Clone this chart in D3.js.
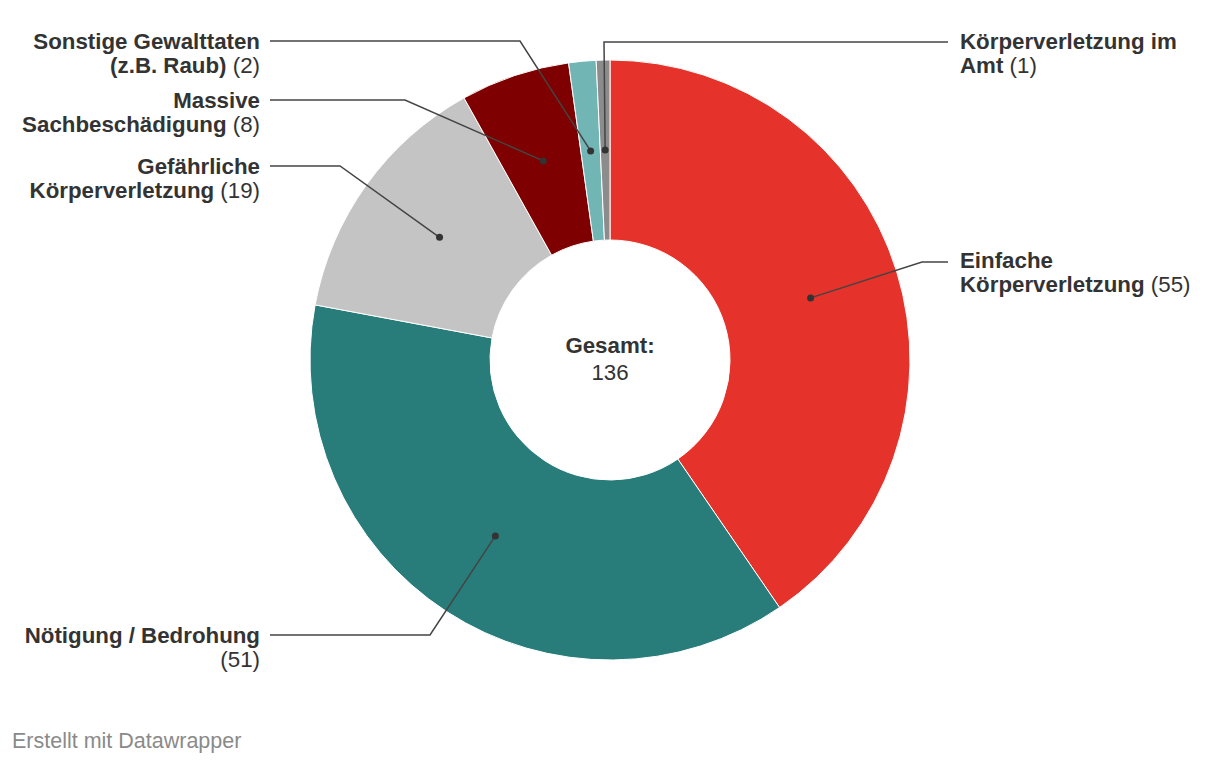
<!DOCTYPE html>
<html><head><meta charset="utf-8">
<script src="https://cdn.jsdelivr.net/npm/d3@7"></script>
<style>
body{margin:0;background:#fff;font-family:"Liberation Sans",Arial,sans-serif;}
svg{display:block}
</style></head><body>
<svg id="chart" width="1220" height="762"></svg>
<script>
// Data
const categories = ["Einfache Körperverletzung","Nötigung / Bedrohung","Gefährliche Körperverletzung","Massive Sachbeschädigung","Sonstige Gewalttaten (z.B. Raub)","Körperverletzung im Amt"];
const values = [55, 51, 19, 8, 2, 1];
const colors = ["#e5332b","#287d7b","#c4c4c4","#7e0000","#72b5b5","#8c8c8c"];
// label lines (text split) - layout only
const labelLines = [
  ["Einfache","Körperverletzung"],
  ["Nötigung / Bedrohung"],
  ["Gefährliche","Körperverletzung"],
  ["Massive","Sachbeschädigung"],
  ["Sonstige Gewalttaten","(z.B. Raub)"],
  ["Körperverletzung im","Amt"]
];
const valueOnOwnLine = [false,true,false,false,false,false];
// layout: side, label y of first line, elbow point
const layout = [
  {side:"right", y:260, elbow:[922,262]},
  {side:"left",  y:635, elbow:[430,635]},
  {side:"left",  y:166, elbow:[340,166]},
  {side:"left",  y:100, elbow:[405,100]},
  {side:"left",  y:41,  elbow:[520,41]},
  {side:"right", y:41,  elbow:[604,42]}
];

const FS = 22.3;
const svg = d3.select("#chart");
const cx = 610, cy = 360, R = 300, r0 = 120;
const total = d3.sum(values);
const data = categories.map((c,i)=>({name:c,value:values[i],i}));
const pie = d3.pie().value(d=>d.value).sort(null);
const arcs = pie(data);
const arc = d3.arc().innerRadius(r0).outerRadius(R);
const mid = d3.arc().innerRadius((R+r0)/2).outerRadius((R+r0)/2);

const g = svg.append("g").attr("transform",`translate(${cx},${cy})`);
g.selectAll("path.slice").data(arcs).enter().append("path")
  .attr("class","slice").attr("d",arc)
  .attr("fill",d=>colors[d.data.i]).attr("stroke","#fff").attr("stroke-width",1);

// leader lines
const lineG = svg.append("g");
arcs.forEach(a=>{
  const i = a.data.i, L = layout[i];
  const c = mid.centroid(a); const dot=[c[0]+cx,c[1]+cy];
  const endX = L.side==="left" ? 270 : 948;
  const pts = [dot, L.elbow, [endX, L.elbow[1]]];
  lineG.append("path").attr("d", d3.line()(pts)).attr("fill","none")
    .attr("stroke","#444").attr("stroke-width",1.5);
  lineG.append("circle").attr("cx",dot[0]).attr("cy",dot[1]).attr("r",3.5).attr("fill","#333");
  // labels
  const tx = L.side==="left" ? 260 : 960;
  const anchor = L.side==="left" ? "end" : "start";
  const t = svg.append("text").attr("x",tx).attr("y",L.y)
    .attr("text-anchor",anchor).attr("font-size",FS).attr("fill","#333");
  const lines = labelLines[i];
  lines.forEach((ln,k)=>{
    t.append("tspan").attr("x",tx).attr("dy",k===0?"0.35em":"24").attr("font-weight","bold").text(ln);
    if(k===lines.length-1 && !valueOnOwnLine[i]){
      t.append("tspan").attr("font-weight","normal").text(" ("+values[i]+")");
    }
  });
  if(valueOnOwnLine[i]){
    t.append("tspan").attr("x",tx).attr("dy","24").attr("font-weight","normal").text("("+values[i]+")");
  }
});

// center
svg.append("text").attr("x",cx).attr("y",345).attr("dy","0.35em").attr("text-anchor","middle")
  .attr("font-size",FS).attr("font-weight","bold").attr("fill","#333").text("Gesamt:");
svg.append("text").attr("x",cx).attr("y",372).attr("dy","0.35em").attr("text-anchor","middle")
  .attr("font-size",FS).attr("fill","#333").text(total);

svg.append("text").attr("x",12).attr("y",740).attr("dy","0.35em")
  .attr("font-size",21.5).attr("fill","#8a8a8a").text("Erstellt mit Datawrapper");
</script>
</body></html>
